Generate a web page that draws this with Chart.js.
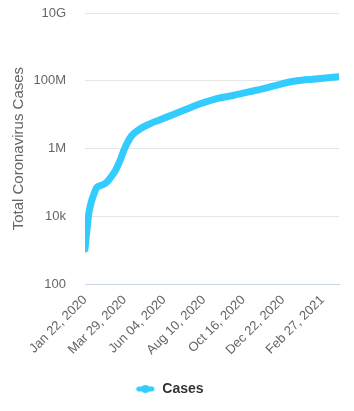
<!DOCTYPE html>
<html>
<head>
<meta charset="utf-8">
<script src="https://cdn.jsdelivr.net/npm/chart.js@4.4.0/dist/chart.umd.min.js"></script>
<style>
html,body{margin:0;padding:0;background:#fff;}
#wrap{width:354px;height:411px;position:relative;}
</style>
</head>
<body>
<div id="wrap"><canvas id="c" width="354" height="411"></canvas></div>
<script>
// Days since Jan 22, 2020 and estimated total cases
const caseDays = [0, 3, 7, 11, 15, 20, 25, 32, 37, 43, 51, 59, 68, 79, 93, 110, 124, 138, 167, 195, 223, 251, 277, 302, 330, 359, 386, 430];
const caseValues = [1100, 3600, 14000, 28000, 45000, 71000, 80000, 89000, 103000, 138000, 219000, 436000, 1100000, 2400000, 3800000, 5400000, 6800000, 8500000, 13500000, 21000000, 30000000, 37000000, 47000000, 59000000, 79000000, 100000000, 112000000, 132000000];

const xTickDays = [0, 67, 134, 201, 268, 335, 402];
const xTickLabels = ["Jan 22, 2020", "Mar 29, 2020", "Jun 04, 2020", "Aug 10, 2020", "Oct 16, 2020", "Dec 22, 2020", "Feb 27, 2021"];
const yTickValues = [100, 10000, 1000000, 100000000, 10000000000];
const yTickLabels = ["100", "10k", "1M", "100M", "10G"];

const seriesName = "Cases";
const lineColor = "#33ccff";
const FONT = "'Liberation Sans', Arial, Helvetica, sans-serif";

const points = caseDays.map((d, i) => ({x: d, y: caseValues[i]}));

// legend symbol: short rounded line with a marker dot
const sym = document.createElement('canvas');
sym.width = 20; sym.height = 10;
(function () {
  const g = sym.getContext('2d');
  g.strokeStyle = lineColor; g.fillStyle = lineColor;
  g.lineWidth = 5; g.lineCap = 'round';
  g.beginPath(); g.moveTo(3.5, 5); g.lineTo(16.5, 5); g.stroke();
  g.beginPath(); g.arc(10, 5, 4, 0, Math.PI * 2); g.fill();
})();

new Chart(document.getElementById('c'), {
  type: 'line',
  data: {
    datasets: [{
      label: seriesName,
      data: points,
      borderColor: lineColor,
      backgroundColor: lineColor,
      borderWidth: 7,
      borderCapStyle: 'round',
      borderJoinStyle: 'round',
      pointRadius: 0,
      pointHoverRadius: 0,
      cubicInterpolationMode: 'monotone',
      fill: false
    }]
  },
  options: {
    responsive: false,
    animation: false,
    events: [],
    layout: {padding: {top: 13, right: 15, left: 0, bottom: 5}},
    plugins: {
      tooltip: {enabled: false},
      legend: {
        position: 'bottom',
        labels: {
          usePointStyle: true,
          pointStyleWidth: 20,
          boxHeight: 10,
          padding: 16,
          color: '#333333',
          font: {family: FONT, size: 14, weight: 'bold'},
          generateLabels: () => [{
            text: seriesName,
            fillStyle: lineColor,
            strokeStyle: lineColor,
            lineWidth: 0,
            pointStyle: sym,
            hidden: false,
            datasetIndex: 0,
            fontColor: '#333333'
          }]
        }
      }
    },
    scales: {
      x: {
        type: 'linear',
        min: 0,
        max: 430,
        grid: {display: false, drawTicks: false},
        border: {display: true, color: '#ccd6eb', width: 1},
        afterBuildTicks: s => { s.ticks = xTickDays.map(v => ({value: v})); },
        ticks: {
          autoSkip: false,
          minRotation: 45,
          maxRotation: 45,
          padding: 8,
          color: '#666666',
          font: {family: FONT, size: 13},
          callback: v => { const i = xTickDays.indexOf(v); return i >= 0 ? xTickLabels[i] : ''; }
        }
      },
      y: {
        type: 'logarithmic',
        min: 100,
        max: 10000000000,
        grid: {color: '#e6e6e6', drawTicks: true, tickLength: 16, tickColor: 'rgba(0,0,0,0)'},
        border: {display: false},
        afterBuildTicks: s => { s.ticks = yTickValues.map(v => ({value: v})); },
        afterFit: s => { s.width = 85; },
        title: {
          display: true,
          text: 'Total Coronavirus Cases',
          color: '#666666',
          font: {family: FONT, size: 15},
          padding: {top: 10, bottom: 0}
        },
        ticks: {
          autoSkip: false,
          padding: 3,
          color: '#666666',
          font: {family: FONT, size: 13},
          callback: v => { const i = yTickValues.indexOf(v); return i >= 0 ? yTickLabels[i] : ''; }
        }
      }
    }
  }
});
</script>
</body>
</html>
